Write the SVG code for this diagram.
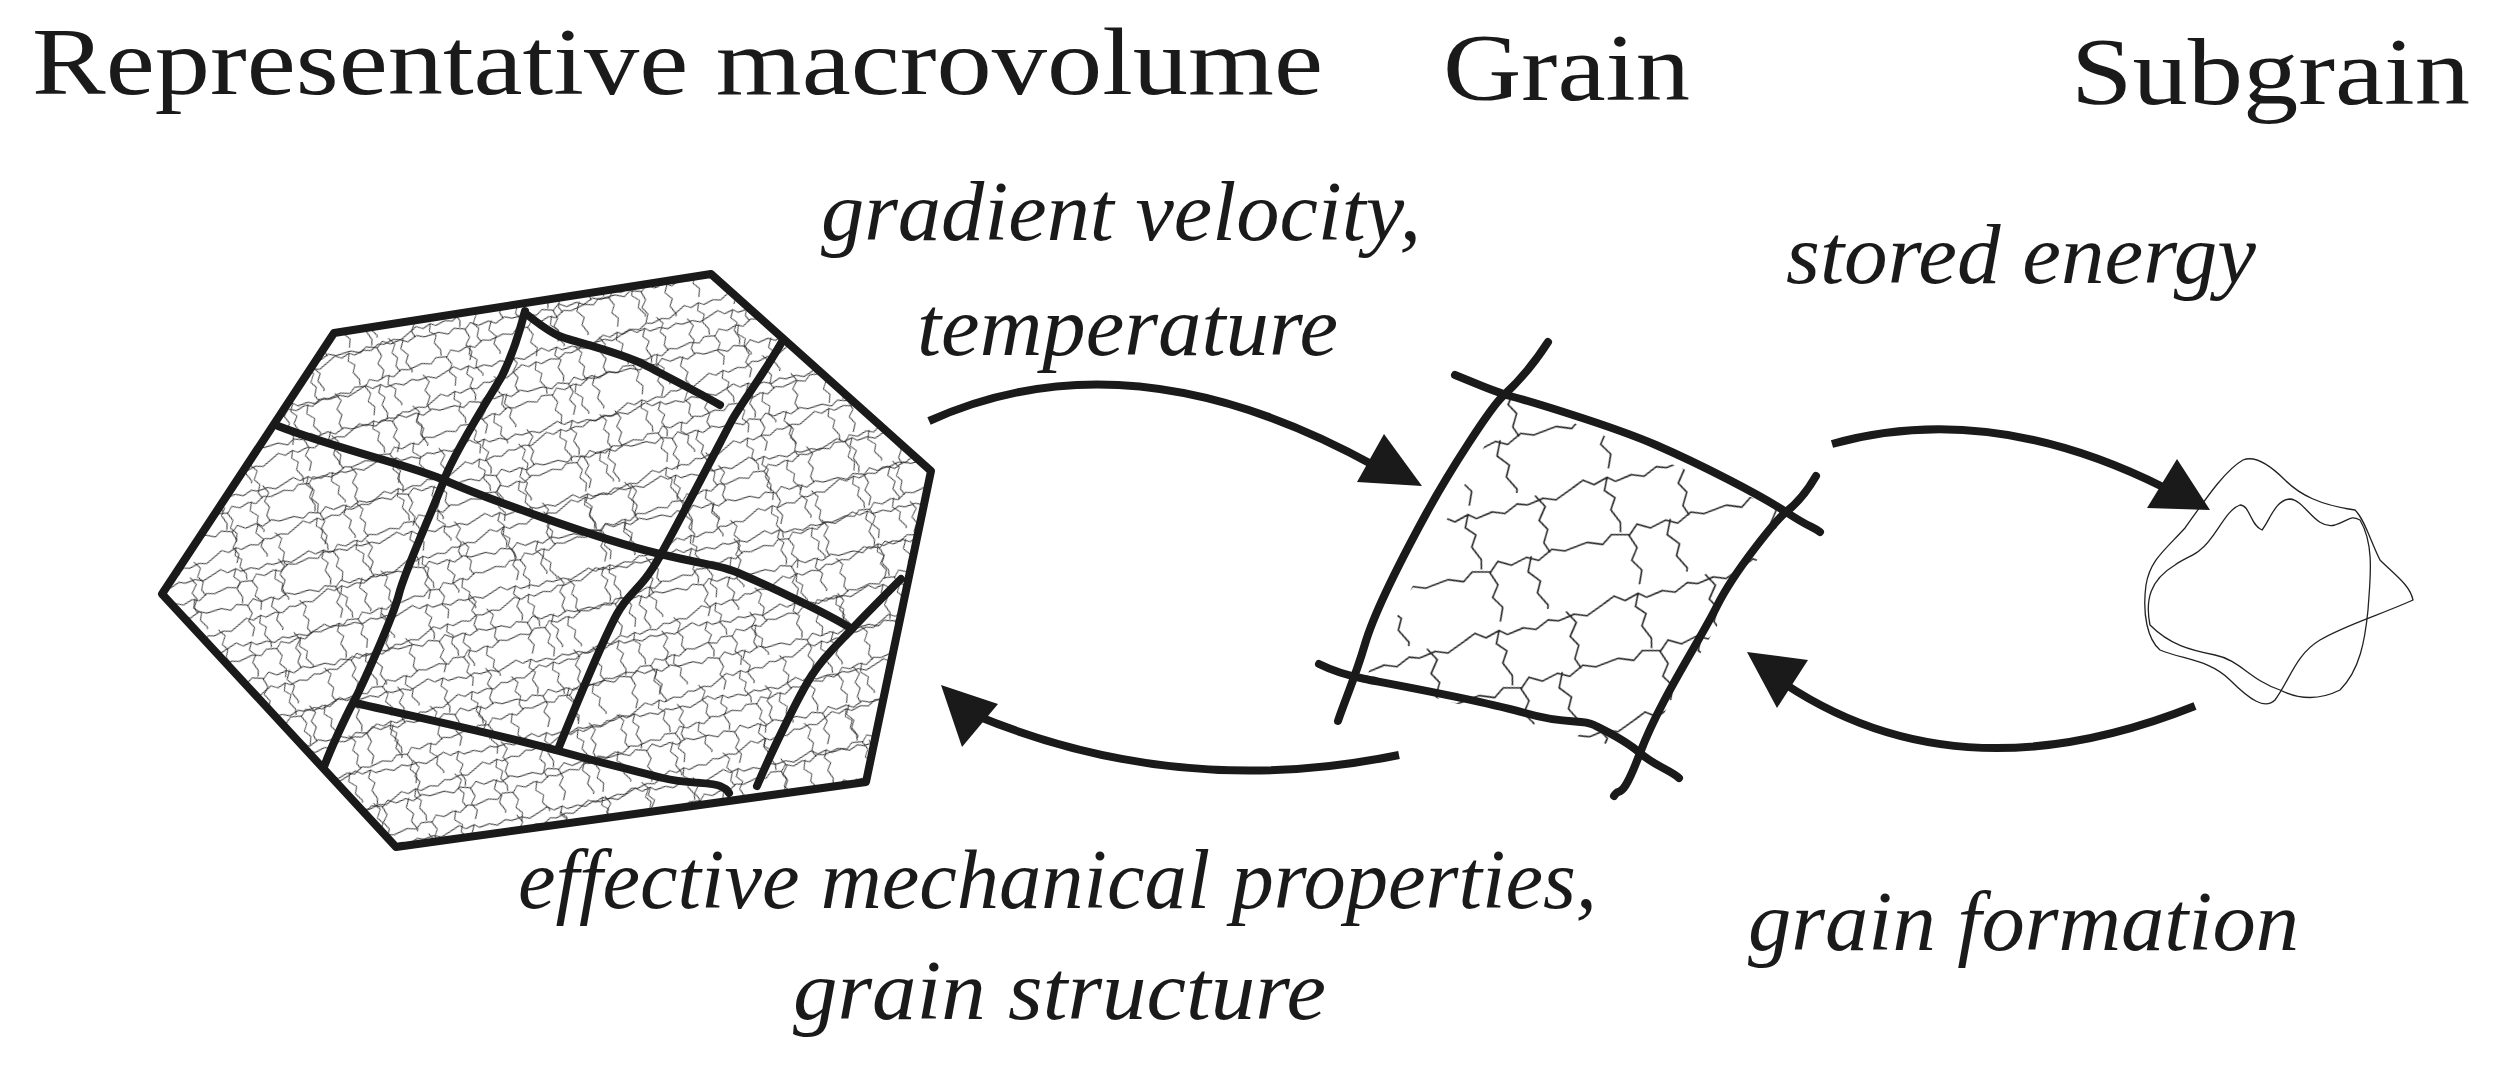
<svg xmlns="http://www.w3.org/2000/svg" width="2499" height="1091" viewBox="0 0 2499 1091">
<style>
.t{font-family:"Liberation Serif","DejaVu Serif",serif;fill:#1a1a1a}
.h{font-size:96px}
.i{font-size:84px;font-style:italic}
.thick{fill:none;stroke:#1a1a1a;stroke-width:8;stroke-linecap:round;stroke-linejoin:round}
.arr{fill:none;stroke:#1a1a1a;stroke-width:8;stroke-linecap:butt}
.head{fill:#1a1a1a}
.thin{fill:none;stroke:#222;stroke-width:1.3}
</style>
<defs>
<pattern id="cells" width="120" height="100" patternUnits="userSpaceOnUse" patternTransform="rotate(-12) scale(0.75)">
<path class="thin" d="M0,8 l10,-4 l8,6 l12,-3 l6,5 l14,-2 l10,4 l12,-5 l8,3 l14,-2 l10,4 l16,-6 M0,55 l12,5 l9,-6 l15,4 l8,-7 l10,6 l14,-3 l9,5 l13,-6 l10,4 l20,-2 M30,7 l-5,10 l7,8 l-6,9 l5,12 l-2,8 M35,58 l4,12 l-7,9 l6,10 l-5,11 l3,8 M88,6 l6,11 l-8,10 l5,9 l-6,10 l3,9 M72,54 l-6,12 l8,10 l-5,9 l6,12 l-3,9"/>
</pattern>
<pattern id="cells2" width="120" height="100" patternUnits="userSpaceOnUse" patternTransform="translate(17,9) rotate(-20) scale(0.72)">
<path class="thin" d="M0,8 l10,-4 l8,6 l12,-3 l6,5 l14,-2 l10,4 l12,-5 l8,3 l14,-2 l10,4 l16,-6 M0,55 l12,5 l9,-6 l15,4 l8,-7 l10,6 l14,-3 l9,5 l13,-6 l10,4 l20,-2 M30,7 l-5,10 l7,8 l-6,9 l5,12 l-2,8 M35,58 l4,12 l-7,9 l6,10 l-5,11 l3,8 M88,6 l6,11 l-8,10 l5,9 l-6,10 l3,9 M72,54 l-6,12 l8,10 l-5,9 l6,12 l-3,9"/>
</pattern>
<pattern id="big" width="120" height="100" patternUnits="userSpaceOnUse" patternTransform="translate(1400,400) rotate(-15) scale(1.2)">
<path class="thin" d="M0,8 l10,-4 l8,6 l12,-3 l6,5 l14,-2 l10,4 l12,-5 l8,3 l14,-2 l10,4 l16,-6 M0,55 l12,5 l9,-6 l15,4 l8,-7 l10,6 l14,-3 l9,5 l13,-6 l10,4 l20,-2 M30,7 l-5,10 l7,8 l-6,9 l5,12 l-2,8 M35,58 l4,12 l-7,9 l6,10 l-5,11 l3,8 M88,6 l6,11 l-8,10 l5,9 l-6,10 l3,9 M72,54 l-6,12 l8,10 l-5,9 l6,12 l-3,9"/>
</pattern>
</defs>
<rect width="2499" height="1091" fill="#fff"/>

<g id="labels">
<text class="t h" x="32" y="94" textLength="1291" lengthAdjust="spacingAndGlyphs">Representative macrovolume</text>
<text class="t h" x="1443" y="100" textLength="247" lengthAdjust="spacingAndGlyphs">Grain</text>
<text class="t h" x="2071" y="104" textLength="399" lengthAdjust="spacingAndGlyphs">Subgrain</text>
<text class="t i" x="821" y="240" textLength="600" lengthAdjust="spacingAndGlyphs">gradient velocity,</text>
<text class="t i" x="917" y="355" textLength="421" lengthAdjust="spacingAndGlyphs">temperature</text>
<text class="t i" x="1786" y="283" textLength="470" lengthAdjust="spacingAndGlyphs">stored energy</text>
<text class="t i" x="518" y="908" textLength="1079" lengthAdjust="spacingAndGlyphs">effective mechanical properties,</text>
<text class="t i" x="793" y="1019" textLength="533" lengthAdjust="spacingAndGlyphs">grain structure</text>
<text class="t i" x="1748" y="950" textLength="551" lengthAdjust="spacingAndGlyphs">grain formation</text>
</g>

<g id="macrovolume">
<polygon points="334,333 711,274 931,471 866,782 396,847 162,594" fill="url(#cells)"/>
<polygon points="334,333 711,274 931,471 866,782 396,847 162,594" fill="url(#cells2)"/>
<polygon class="thick" points="334,333 711,274 931,471 866,782 396,847 162,594"/>
<path class="thick" d="M525,311 C515,350 505,370 502,376 S455,450 444,480 S405,570 399,594 S360,690 353,703 S330,750 324,767"/>
<path class="thick" d="M525,313 C540,325 550,332 559,336 S620,352 645,365 S705,396 720,405"/>
<path class="thick" d="M783,340 C760,380 740,405 731,422 S680,520 660,556 S630,590 617,614 S570,720 559,747"/>
<path class="thick" d="M278,426 C340,450 410,465 444,480 S600,540 660,554 S720,565 743,575 S825,612 852,629"/>
<path class="thick" d="M901,579 C880,600 862,618 852,629 S825,655 812,675 S770,755 757,786"/>
<path class="thick" d="M355,703 C430,720 520,740 559,751 S640,772 663,778 S712,782 720,786 S727,790 729,793"/>
</g>

<g id="grain">
<polygon points="1510,396 1786,512 1640,753 1365,679" fill="url(#big)"/>
<path class="thick" d="M1548,342 C1530,370 1515,385 1503,396 S1450,470 1426,514 S1375,610 1365,644 S1345,700 1338,721"/>
<path class="thick" d="M1455,375 C1480,385 1495,392 1510,396 S1610,425 1656,445 S1760,495 1786,512 S1810,525 1820,532"/>
<path class="thick" d="M1816,476 C1805,495 1795,505 1786,512 S1735,570 1717,606 S1660,700 1640,753 S1620,785 1614,796"/>
<path class="thick" d="M1319,664 C1335,672 1350,676 1365,679 S1480,700 1525,713 S1580,718 1594,725 S1625,740 1640,753 S1670,770 1679,778"/>
</g>

<g id="subgrain">
<path class="thin" d="M2243,460 C2225,470 2205,500 2185,528 C2165,550 2150,560 2146,585 C2142,615 2148,640 2160,650 C2185,660 2210,660 2230,680 C2250,700 2265,710 2275,700 C2290,680 2295,655 2320,640 C2345,625 2380,615 2413,600 C2410,585 2395,575 2380,560 C2370,540 2365,520 2355,510 C2320,505 2300,495 2285,480 C2270,465 2255,455 2243,460 Z"/>
<path class="thin" d="M2200,550 C2215,540 2225,510 2240,505 C2250,505 2250,525 2262,530 C2270,520 2275,500 2290,499 C2305,500 2315,530 2335,525 C2350,520 2350,515 2360,520 C2375,545 2370,580 2368,610 C2365,640 2360,670 2340,690 C2320,700 2300,700 2280,690 C2250,680 2240,660 2215,655 C2190,650 2170,645 2150,625 C2145,600 2150,580 2175,565 C2185,558 2195,555 2200,550 Z"/>
</g>

<g id="connectors">
<path class="arr" d="M929,421 Q1130,330 1375,466"/>
<polygon class="head" points="1422,486 1357,482 1384,434"/>
<path class="arr" d="M1399,755 Q1180,800 975,715"/>
<polygon class="head" points="941,685 998,704 962,747"/>
<path class="arr" d="M1832,444 Q1990,400 2165,488"/>
<polygon class="head" points="2210,510 2147,508 2177,459"/>
<path class="arr" d="M2195,706 Q1960,800 1785,684"/>
<polygon class="head" points="1747,652 1808,660 1777,708"/>
</g>
</svg>
